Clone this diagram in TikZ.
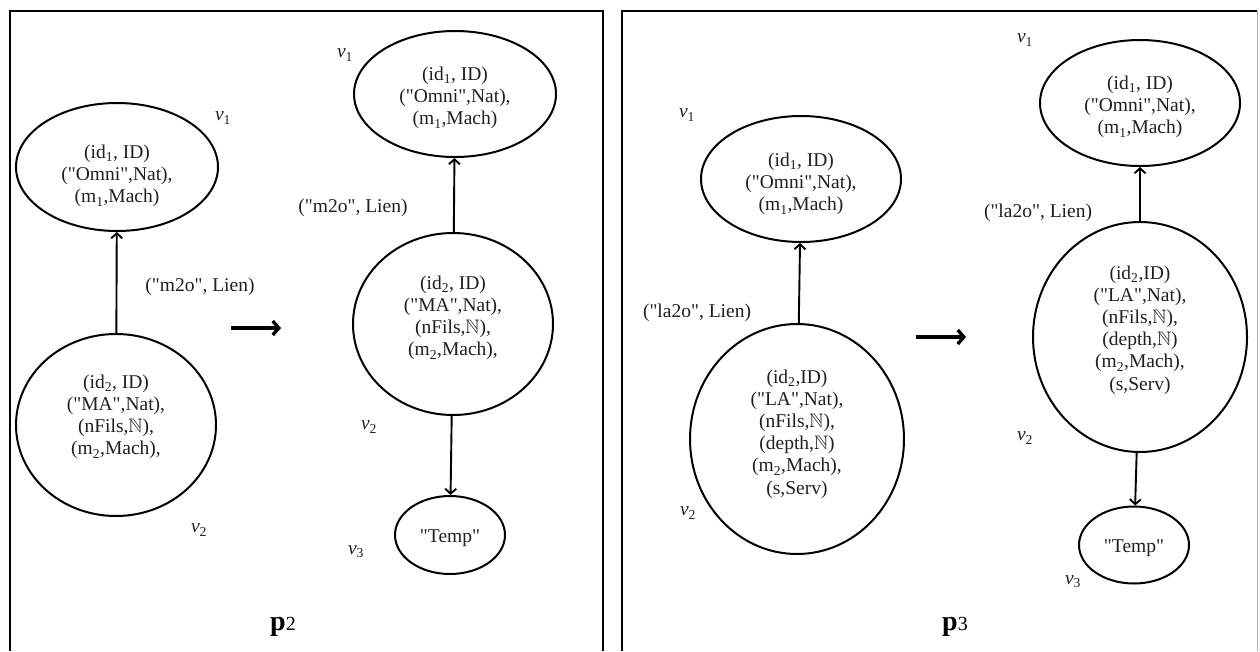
\documentclass[tikz,border=0pt]{standalone}
\usepackage{amssymb}
\usepackage{fontspec}
\setmainfont{Liberation Serif}[Ligatures=TeXOff]
\usetikzlibrary{shapes.geometric,arrows.meta}
\newcommand{\subx}[1]{\textsubscript{#1}}
\begin{document}
\begin{tikzpicture}[x=1pt,y=-1pt,
  vtx/.style={draw=black, line width=2pt, ellipse, inner sep=0pt},
  txt/.style={align=center, inner sep=0pt, font=\fontsize{19.5pt}{22.2pt}\selectfont, text=black!88},
  lbl/.style={inner sep=0pt, font=\fontsize{19.5pt}{22.2pt}\selectfont, text=black!88},
  edge/.style={line width=1.9pt, -{Straight Barb[length=5pt,width=11pt]}},
  big/.style={line width=3.4pt, -{Straight Barb[length=6pt,width=14pt]}},
  frame/.style={line width=2.6pt, line cap=butt},
  plbl/.style={inner sep=0pt, anchor=base}
]
\useasboundingbox (0,0) rectangle (1260,651);

% frames
\draw[frame] (10,651) -- (10,11) -- (603,11) -- (603,651);
\draw[frame] (622,651) -- (622,11) -- (1257,11);
\draw[gray!60, line width=1pt] (1257,11) -- (1257,651);

% ---------- panel p2, left graph ----------
\node[vtx, minimum width=202pt, minimum height=128pt] (a1) at (117,167) {};
\node[txt] (a1t) at (117,176) {(id\subx{1}, ID)\\("Omni",Nat),\\(m\subx{1},Mach)};
\node[vtx, minimum width=200pt, minimum height=182pt] (a2) at (116,425) {};
\node[txt] (a2t) at (116,417) {(id\subx{2}, ID)\\("MA",Nat),\\(nFils,$\mathbb{N}$),\\(m\subx{2},Mach),};
\node[lbl] (a1l) at (223,118) {\textit{v}\subx{1}};
\node[lbl] (a2l) at (199,530) {\textit{v}\subx{2}};
\node[lbl] (ael) at (200,287) {("m2o", Lien)};
\draw[edge] (a2) -- (a1);

\coordinate (b1s) at (231,328);
\coordinate (b1e) at (281,328);
\draw[big] (b1s) -- (b1e);

% ---------- panel p2, right graph ----------
\node[vtx, minimum width=202pt, minimum height=126pt] (c1) at (455,94) {};
\node[txt] (c1t) at (455,98) {(id\subx{1}, ID)\\("Omni",Nat),\\(m\subx{1},Mach)};
\node[vtx, minimum width=200pt, minimum height=182pt] (c2) at (453,324) {};
\node[txt] (c2t) at (453,318) {(id\subx{2}, ID)\\("MA",Nat),\\(nFils,$\mathbb{N}$),\\(m\subx{2},Mach),};
\node[vtx, minimum width=110pt, minimum height=78pt] (c3) at (450,535) {};
\node[txt] (c3t) at (450,538) {"Temp"};
\node[lbl] (c1l) at (345,55) {\textit{v}\subx{1}};
\node[lbl] (c2l) at (369,427) {\textit{v}\subx{2}};
\node[lbl] (c3l) at (356,552) {\textit{v}\subx{3}};
\node[lbl] (cel) at (353,208) {("m2o", Lien)};
\draw[edge] (c2) -- (c1);
\draw[edge] (c2) -- (c3);

\node[plbl] (p2) at (283,630) {{\fontsize{28pt}{28pt}\selectfont\bfseries p}{\fontsize{20pt}{20pt}\selectfont 2}};

% ---------- panel p3, left graph ----------
\node[vtx, minimum width=200pt, minimum height=126pt] (d1) at (801,179) {};
\node[txt] (d1t) at (801,184) {(id\subx{1}, ID)\\("Omni",Nat),\\(m\subx{1},Mach)};
\node[vtx, minimum width=214pt, minimum height=230pt] (d2) at (797,439) {};
\node[txt] (d2t) at (797,434) {(id\subx{2},ID)\\("LA",Nat),\\(nFils,$\mathbb{N}$),\\(depth,$\mathbb{N}$)\\(m\subx{2},Mach),\\(s,Serv)};
\node[lbl] (d1l) at (687,115) {\textit{v}\subx{1}};
\node[lbl] (d2l) at (688,513) {\textit{v}\subx{2}};
\node[lbl] (del) at (697,313) {("la2o", Lien)};
\draw[edge] (d2) -- (d1);

\coordinate (b2s) at (916,337);
\coordinate (b2e) at (966,337);
\draw[big] (b2s) -- (b2e);

% ---------- panel p3, right graph ----------
\node[vtx, minimum width=200pt, minimum height=126pt] (e1) at (1140,103) {};
\node[txt] (e1t) at (1140,107) {(id\subx{1}, ID)\\("Omni",Nat),\\(m\subx{1},Mach)};
\node[vtx, minimum width=214pt, minimum height=230pt] (e2) at (1140,337) {};
\node[txt] (e2t) at (1140,330) {(id\subx{2},ID)\\("LA",Nat),\\(nFils,$\mathbb{N}$),\\(depth,$\mathbb{N}$)\\(m\subx{2},Mach),\\(s,Serv)};
\node[vtx, minimum width=110pt, minimum height=77pt] (e3) at (1134,545) {};
\node[txt] (e3t) at (1134,548) {"Temp"};
\node[lbl] (e1l) at (1025,40) {\textit{v}\subx{1}};
\node[lbl] (e2l) at (1025,438) {\textit{v}\subx{2}};
\node[lbl] (e3l) at (1073,582) {\textit{v}\subx{3}};
\node[lbl] (eel) at (1038,213) {("la2o", Lien)};
\draw[edge] (e2) -- (e1);
\draw[edge] (e2) -- (e3);

\node[plbl] (p3) at (955,630) {{\fontsize{28pt}{28pt}\selectfont\bfseries p}{\fontsize{20pt}{20pt}\selectfont 3}};
\end{tikzpicture}
\end{document}
